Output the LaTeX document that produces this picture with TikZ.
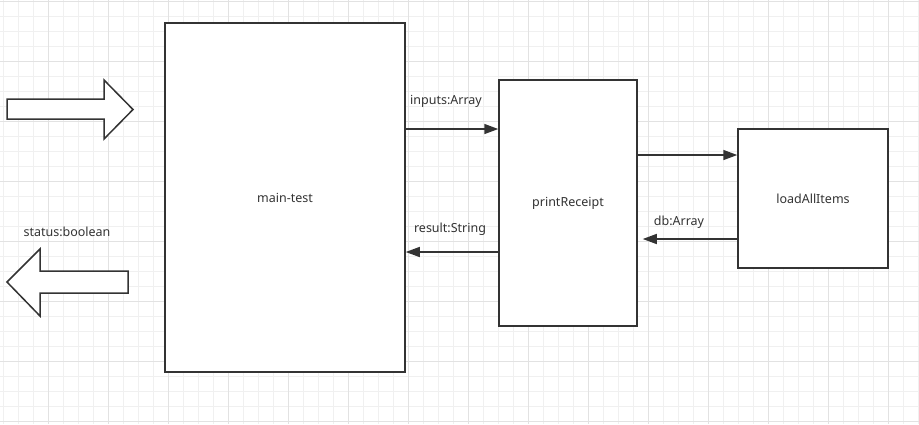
\documentclass[tikz,border=0pt]{standalone}
\usepackage{fontspec}
\setmainfont{Noto Sans}
\usetikzlibrary{positioning,arrows.meta}

\definecolor{ink}{HTML}{333333}
\definecolor{gridlo}{HTML}{F0F0F0}
\definecolor{gridhi}{HTML}{E2E2E2}

\tikzset{
  box/.style={draw=ink, line width=1.5pt, fill=white, inner sep=0pt, text=ink,
    font=\fontsize{12.5}{14}\selectfont},
  flow/.style={draw=ink, line width=1.5pt, -{Triangle[length=14pt,width=10pt]}},
  lbl/.style={text=ink, inner sep=0pt, font=\fontsize{12.5}{14}\selectfont},
  fatarrow/.style={draw=ink, line width=1.5pt, fill=white, line join=miter},
}

\begin{document}
\begin{tikzpicture}[x=1pt,y=-1pt]
  \useasboundingbox (0,0) rectangle (919,424);
  % grid
  \begin{scope}
    \clip (0,0) rectangle (919,424);
    \fill[white] (0,0) rectangle (919,424);
    \foreach \gx in {3.3,18.3,...,919} \draw[gridlo, line width=1pt] (\gx,0) -- (\gx,424);
    \foreach \gy in {1.7,16.7,...,424} \draw[gridlo, line width=1pt] (0,\gy) -- (919,\gy);
    \foreach \gx in {48.3,108.3,...,919} \draw[gridhi, line width=1pt] (\gx,0) -- (\gx,424);
    \foreach \gy in {1.7,61.7,...,424} \draw[gridhi, line width=1pt] (0,\gy) -- (919,\gy);
  \end{scope}

  % boxes
  \node[box, minimum width=240pt, minimum height=349pt] (main) at (285,197.5) {main-test};
  \node[box, minimum width=138pt, minimum height=246pt] (print) at (568,203) {printReceipt};
  \node[box, minimum width=150pt, minimum height=139pt] (load) at (813,198.5) {loadAllItems};

  % in / out
  \draw[fatarrow] (7,99) -- (104,99) -- (104,80) -- (133,109.5) -- (104,139)
    -- (104,119) -- (7,119) -- cycle;
  \draw[fatarrow] (7,282) -- (40,249) -- (40,271) -- (128,271) -- (128,293)
    -- (40,293) -- (40,316) -- cycle;
  \node[lbl] (status) at (67,232) {status:boolean};

  % calls
  \draw[flow] (main.east |- 0,129) -- (print.west |- 0,129);
  \draw[flow] (print.west |- 0,252) -- (main.east |- 0,252);
  \draw[flow] (print.east |- 0,155) -- (load.west |- 0,155);
  \draw[flow, shorten >=5pt] (load.west |- 0,239) -- (print.east |- 0,239);
  \node[lbl] (inputs) at (446,101) {inputs:Array};
  \node[lbl] (result) at (450,229) {result:String};
  \node[lbl] (db) at (679,222) {db:Array};
\end{tikzpicture}
\end{document}
